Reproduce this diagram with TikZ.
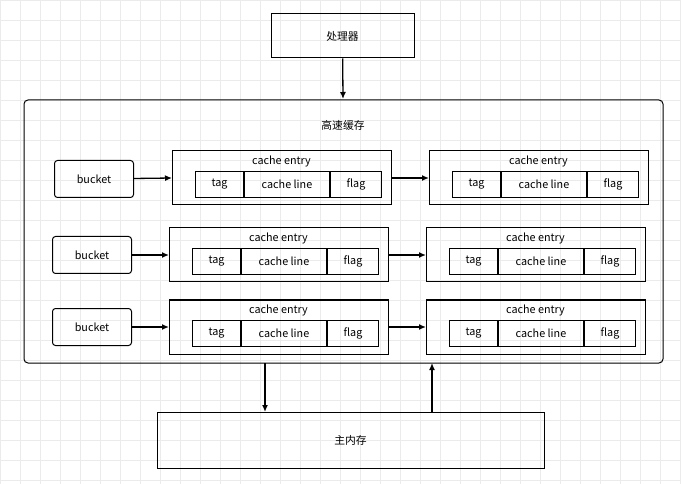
\documentclass[tikz,border=0pt]{standalone}
\usepackage{fontspec}
\setmainfont{Noto Sans CJK SC}
\usetikzlibrary{arrows,arrows.meta,positioning}
\begin{document}
\begin{tikzpicture}[x=1pt,y=-1pt,>=latex',font=\fontsize{10.8}{12}\selectfont,
  line width=1pt,
  box/.style={draw, minimum height=#1},
  cell/.style={draw, minimum height=26pt, inner sep=0pt},
  rbox/.style={draw, rounded corners=3pt, minimum width=79pt, minimum height=37pt},
  conn/.style={-{Latex[length=7pt,width=6pt]}, line width=1.3pt}]
  \useasboundingbox (0,0) rectangle (681,484);
  \fill[white] (0,0) rectangle (681,484);
  \foreach \g in {0,20,...,680} \draw[black!8, line width=0.5pt] (\g,0) -- (\g,484);
  \foreach \g in {0,20,...,480} \draw[black!8, line width=0.5pt] (0,\g) -- (681,\g);
  \node [box=44pt, minimum width=143pt] (cpu) at (342.5,36) {处理器};
  \draw [rounded corners=4pt] (24,100) rectangle (663,363);
  \coordinate (cachetop) at (343,99);
  \node at (343,125) {高速缓存};
  \node [box=56pt, minimum width=387pt] (mem) at (350.5,440) {主内存};
  % buckets and entries
  \foreach \r/\bx/\by/\ex/\ey in {1/94/179/172/151, 2/92/255/169/228, 3/92/327/169/300} {
    \node [rbox] (bucket\r) at (\bx,\by) {bucket};
    \foreach \c/\dx in {a/0, b/257} {
      \draw (\ex+\dx,\ey) rectangle ++(219,54);
      \node (entry\r\c) at (\ex+\dx+109.5,\ey+10) {cache entry};
      \node [cell, minimum width=48pt, anchor=north west] (tag\r\c) at (\ex+\dx+23,\ey+20) {tag};
      \node [cell, minimum width=85pt, right=0pt of tag\r\c] (line\r\c) {cache line};
      \node [cell, minimum width=51pt, right=0pt of line\r\c] (flag\r\c) {flag};
      \coordinate (left\r\c) at (\ex+\dx,\ey+27);
      \coordinate (right\r\c) at (\ex+\dx+219,\ey+27);
    }
    \draw [conn] (bucket\r) -- (left\r a);
    \draw [conn] (right\r a) -- (left\r b);
  }
  \draw [conn] (cpu) -- (cachetop);
  \coordinate (down1) at (265,363);
  \coordinate (down2) at (265,412);
  \coordinate (up1) at (432,412);
  \coordinate (up2) at (432,363);
  \draw [conn] (down1) -- (down2);
  \draw [conn] (up1) -- (up2);
\end{tikzpicture}
\end{document}
